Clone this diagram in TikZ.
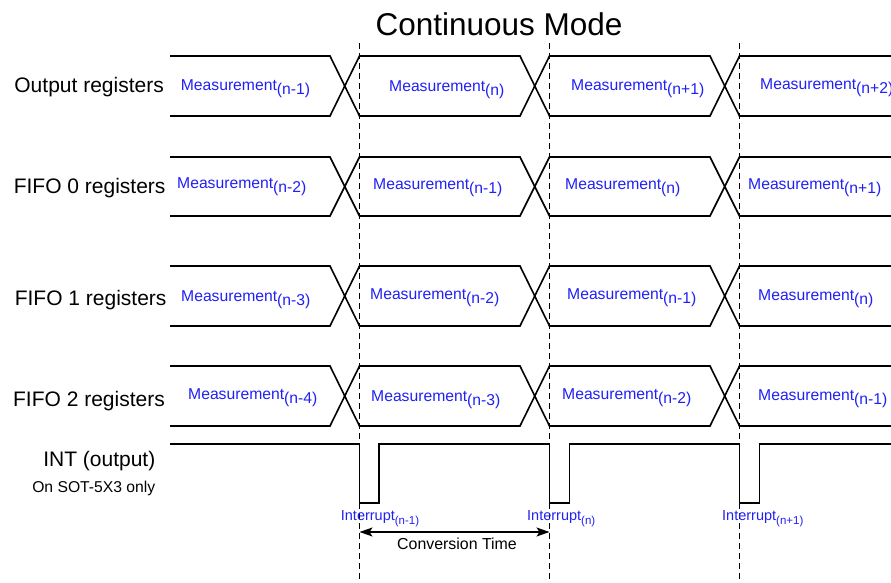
\documentclass[tikz,border=0pt]{standalone}
\usepackage{fontspec}
\setmainfont{Liberation Sans}
\usetikzlibrary{arrows.meta}
\definecolor{measblue}{RGB}{32,32,245}
\newcommand{\lowpart}[1]{\raisebox{-4bp}{#1}}
\newcommand{\smallpart}[1]{\raisebox{-4bp}{\fontsize{11.5bp}{13bp}\selectfont #1}}
\tikzset{
  bus/.style={black, line width=1.6bp, line join=miter},
  marker/.style={black, line width=0.7bp, dash pattern=on 6bp off 4bp},
  signame/.style={anchor=base east, font=\fontsize{21bp}{24bp}\selectfont},
  measlabel/.style={anchor=base west, text=measblue, font=\fontsize{15.7bp}{18bp}\selectfont},
  intlabel/.style={anchor=base west, text=measblue, font=\fontsize{14.5bp}{17bp}\selectfont},
}
\begin{document}
\begin{tikzpicture}[x=1bp,y=-1bp]
    \tikzstyle{every node}+=[inner sep=0pt]
    \useasboundingbox (0,0) rectangle (891,583);
    \node (title) [anchor=base, font=\fontsize{31.5bp}{34bp}\selectfont] at (499,35.8) {Continuous Mode};
    % markers
    \coordinate (m1top) at (359.5,43);
    \coordinate (m1bot) at (359.5,583);
    \coordinate (m2top) at (549.5,43);
    \coordinate (m2bot) at (549.5,583);
    \coordinate (m3top) at (739.5,43);
    \coordinate (m3bot) at (739.5,583);
    \draw [marker] (m1top) -- (m1bot);
    \draw [marker] (m2top) -- (m2bot);
    \draw [marker] (m3top) -- (m3bot);
    % output registers
    \node (outname) [signame] at (164,92.5) {Output registers};
    \draw [bus] (170,56) -- (330,56) -- (359.5,116) -- (520,116) -- (549.5,56) -- (710,56) -- (739.5,116) -- (891,116);
    \draw [bus] (170,116) -- (330,116) -- (359.5,56) -- (520,56) -- (549.5,116) -- (710,116) -- (739.5,56) -- (891,56);
    \node (out1) [measlabel] at (180.7,91) {Measurement\lowpart{(n-1)}};
    \node (out2) [measlabel] at (389,92) {Measurement\lowpart{(n)}};
    \node (out3) [measlabel] at (571,91) {Measurement\lowpart{(n+1)}};
    \node (out4) [measlabel] at (760,89.5) {Measurement\lowpart{(n+2)}};
    % fifo 0
    \node (fifo0name) [signame] at (165.7,193.5) {FIFO 0 registers};
    \draw [bus] (170,157) -- (330,157) -- (359.5,216) -- (520,216) -- (549.5,157) -- (710,157) -- (739.5,216) -- (891,216);
    \draw [bus] (170,216) -- (330,216) -- (359.5,157) -- (520,157) -- (549.5,216) -- (710,216) -- (739.5,157) -- (891,157);
    \node (fifo0a) [measlabel] at (177,189) {Measurement\lowpart{(n-2)}};
    \node (fifo0b) [measlabel] at (373,190) {Measurement\lowpart{(n-1)}};
    \node (fifo0c) [measlabel] at (565,190) {Measurement\lowpart{(n)}};
    \node (fifo0d) [measlabel] at (748,190) {Measurement\lowpart{(n+1)}};
    % fifo 1
    \node (fifo1name) [signame] at (166.7,305.8) {FIFO 1 registers};
    \draw [bus] (170,266) -- (330,266) -- (359.5,326) -- (520,326) -- (549.5,266) -- (710,266) -- (739.5,326) -- (891,326);
    \draw [bus] (170,326) -- (330,326) -- (359.5,266) -- (520,266) -- (549.5,326) -- (710,326) -- (739.5,266) -- (891,266);
    \node (fifo1a) [measlabel] at (181,301.5) {Measurement\lowpart{(n-3)}};
    \node (fifo1b) [measlabel] at (370,299) {Measurement\lowpart{(n-2)}};
    \node (fifo1c) [measlabel] at (567,299.5) {Measurement\lowpart{(n-1)}};
    \node (fifo1d) [measlabel] at (758,300.5) {Measurement\lowpart{(n)}};
    % fifo 2
    \node (fifo2name) [signame] at (165,406.8) {FIFO 2 registers};
    \draw [bus] (170,366) -- (330,366) -- (359.5,426) -- (520,426) -- (549.5,366) -- (710,366) -- (739.5,426) -- (891,426);
    \draw [bus] (170,426) -- (330,426) -- (359.5,366) -- (520,366) -- (549.5,426) -- (710,426) -- (739.5,366) -- (891,366);
    \node (fifo2a) [measlabel] at (188,399) {Measurement\lowpart{(n-4)}};
    \node (fifo2b) [measlabel] at (371,401.5) {Measurement\lowpart{(n-3)}};
    \node (fifo2c) [measlabel] at (562,399.5) {Measurement\lowpart{(n-2)}};
    \node (fifo2d) [measlabel] at (758,400) {Measurement\lowpart{(n-1)}};
    % interrupt line
    \node (intname) [signame] at (155.5,466.5) {INT (output)};
    \node (intnote) [signame, font=\fontsize{15.7bp}{18bp}\selectfont] at (155.5,492.6) {On SOT-5X3 only};
    \draw [bus] (170,444) -- (359.5,444) -- (359.5,503) -- (379,503) -- (379,444) -- (549.5,444) -- (549.5,503) -- (569.5,503) -- (569.5,444) -- (739.5,444) -- (739.5,503) -- (759.5,503) -- (759.5,444) -- (891,444);
    \node (int1) [intlabel] at (340.7,520) {Interrupt\smallpart{(n-1)}};
    \node (int2) [intlabel] at (527,520) {Interrupt\smallpart{(n)}};
    \node (int3) [intlabel] at (722,520) {Interrupt\smallpart{(n+1)}};
    % conversion time
    \coordinate (conv1) at (359.5,532);
    \coordinate (conv2) at (549.5,532);
    \draw [black, line width=1.4bp, {Stealth[length=13bp,width=9bp,inset=3bp]}-{Stealth[length=13bp,width=9bp,inset=3bp]}] (conv1) -- (conv2);
    \node (convtext) [anchor=base, font=\fontsize{15.9bp}{18bp}\selectfont] at (457,549.7) {Conversion Time};
\end{tikzpicture}
\end{document}
